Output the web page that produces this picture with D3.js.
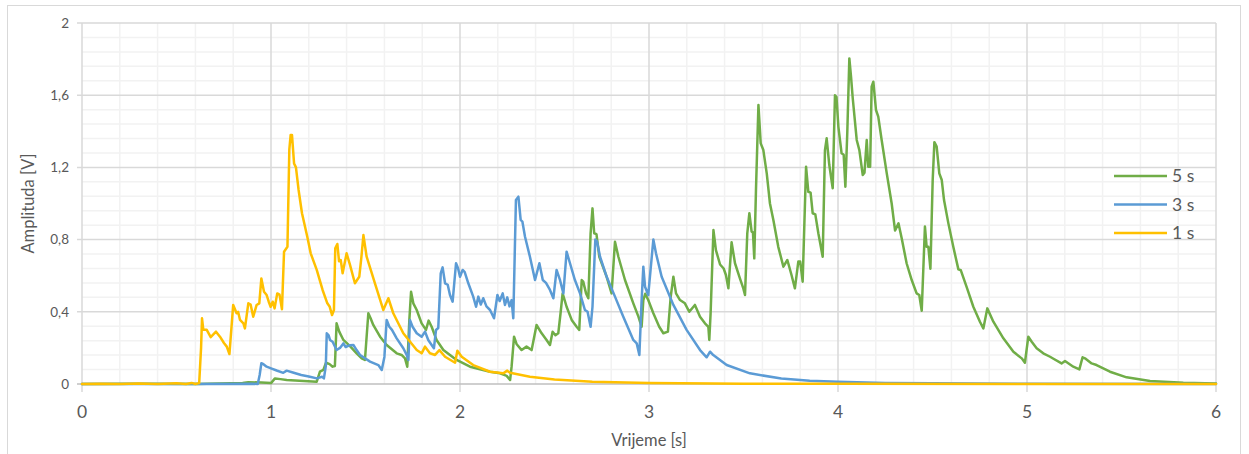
<!DOCTYPE html>
<html><head><meta charset="utf-8">
<script src="https://cdn.jsdelivr.net/npm/d3@7"></script>
<style>body{margin:0;background:#fff;}svg{display:block;font-family:Lato,"Open Sans",sans-serif;}</style>
</head><body>
<script>
const seriesNames = ["5 s", "3 s", "1 s"];
const seriesColors = ["#70AD47", "#5B9BD5", "#FFC000"];
const xTickValues = [0, 1, 2, 3, 4, 5, 6];
const xTickLabels = ["0", "1", "2", "3", "4", "5", "6"];
const yTickValues = [0, 0.4, 0.8, 1.2, 1.6, 2];
const yTickLabels = ["0", "0,4", "0,8", "1,2", "1,6", "2"];

const data5s = [[0,0],[0.3,0.002],[0.6,0],[0.85,0.005],[0.88,0.01],[0.95,0.008],[1.0,0.005],[1.021,0.031],[1.05,0.027],[1.083,0.022],[1.15,0.018],[1.242,0.013],[1.259,0.068],[1.277,0.078],[1.291,0.118],[1.31,0.11],[1.326,0.096],[1.338,0.1],[1.347,0.336],[1.361,0.29],[1.383,0.244],[1.418,0.21],[1.453,0.17],[1.48,0.142],[1.497,0.133],[1.515,0.392],[1.527,0.364],[1.541,0.327],[1.577,0.262],[1.612,0.216],[1.665,0.17],[1.691,0.161],[1.709,0.142],[1.721,0.096],[1.732,0.355],[1.741,0.511],[1.753,0.447],[1.771,0.41],[1.797,0.336],[1.82,0.30],[1.834,0.351],[1.85,0.317],[1.876,0.244],[1.912,0.188],[1.982,0.133],[2.053,0.096],[2.159,0.068],[2.212,0.059],[2.247,0.045],[2.265,0.022],[2.273,0.096],[2.286,0.262],[2.30,0.22],[2.326,0.188],[2.352,0.207],[2.379,0.188],[2.405,0.327],[2.432,0.281],[2.458,0.244],[2.476,0.216],[2.49,0.29],[2.505,0.27],[2.52,0.281],[2.532,0.392],[2.543,0.502],[2.564,0.428],[2.591,0.355],[2.617,0.317],[2.631,0.30],[2.644,0.576],[2.652,0.567],[2.667,0.502],[2.679,0.475],[2.691,0.835],[2.701,0.973],[2.71,0.835],[2.722,0.83],[2.737,0.705],[2.776,0.594],[2.802,0.502],[2.82,0.788],[2.838,0.705],[2.873,0.576],[2.917,0.447],[2.944,0.373],[2.961,0.317],[2.97,0.465],[2.98,0.50],[2.996,0.465],[3.023,0.392],[3.054,0.317],[3.076,0.281],[3.1,0.29],[3.115,0.484],[3.129,0.594],[3.143,0.502],[3.164,0.465],[3.19,0.447],[3.213,0.40],[3.243,0.438],[3.27,0.373],[3.296,0.336],[3.314,0.317],[3.319,0.244],[3.326,0.392],[3.341,0.853],[3.354,0.742],[3.376,0.662],[3.395,0.64],[3.407,0.604],[3.42,0.53],[3.437,0.785],[3.455,0.669],[3.481,0.585],[3.499,0.53],[3.508,0.493],[3.52,0.835],[3.531,0.946],[3.543,0.844],[3.55,0.84],[3.557,0.696],[3.566,1.075],[3.579,1.546],[3.591,1.333],[3.605,1.296],[3.623,1.167],[3.64,1.0],[3.658,0.909],[3.684,0.76],[3.711,0.65],[3.732,0.687],[3.754,0.604],[3.772,0.53],[3.79,0.678],[3.80,0.678],[3.813,0.567],[3.831,1.204],[3.843,1.065],[3.855,1.06],[3.866,0.946],[3.88,0.94],[3.896,0.835],[3.919,0.705],[3.931,1.296],[3.94,1.361],[3.954,1.213],[3.972,1.084],[3.984,1.60],[3.992,1.59],[4.002,1.425],[4.019,1.278],[4.03,1.27],[4.039,1.093],[4.049,1.389],[4.06,1.804],[4.069,1.702],[4.078,1.583],[4.099,1.352],[4.113,1.296],[4.131,1.158],[4.14,1.17],[4.152,1.352],[4.16,1.204],[4.17,1.204],[4.178,1.647],[4.187,1.675],[4.201,1.518],[4.213,1.481],[4.231,1.352],[4.258,1.167],[4.284,1.0],[4.302,0.85],[4.32,0.89],[4.337,0.808],[4.363,0.669],[4.39,0.576],[4.416,0.502],[4.43,0.493],[4.443,0.406],[4.46,0.872],[4.469,0.76],[4.478,0.76],[4.489,0.638],[4.501,1.13],[4.51,1.34],[4.522,1.315],[4.536,1.167],[4.549,1.13],[4.561,1.019],[4.584,0.89],[4.61,0.76],[4.637,0.635],[4.65,0.63],[4.68,0.539],[4.716,0.428],[4.751,0.345],[4.769,0.308],[4.79,0.419],[4.822,0.345],[4.875,0.253],[4.928,0.179],[4.972,0.142],[4.989,0.118],[5.007,0.262],[5.025,0.234],[5.051,0.198],[5.086,0.17],[5.122,0.151],[5.14,0.14],[5.183,0.114],[5.201,0.127],[5.245,0.096],[5.277,0.081],[5.294,0.148],[5.31,0.14],[5.342,0.114],[5.368,0.105],[5.439,0.068],[5.527,0.037],[5.651,0.017],[5.827,0.007],[6.0,0.003]];

const data3s = [[0,0],[0.3,0],[0.6,0],[0.9,0.002],[0.93,0],[0.94,0.05],[0.949,0.115],[0.96,0.11],[0.977,0.096],[1.0,0.087],[1.03,0.075],[1.065,0.062],[1.083,0.074],[1.12,0.062],[1.16,0.05],[1.2,0.042],[1.242,0.031],[1.27,0.04],[1.28,0.031],[1.29,0.1],[1.295,0.281],[1.305,0.27],[1.312,0.244],[1.326,0.234],[1.347,0.188],[1.365,0.2],[1.383,0.225],[1.395,0.205],[1.418,0.215],[1.436,0.216],[1.453,0.188],[1.471,0.161],[1.524,0.124],[1.568,0.105],[1.586,0.078],[1.60,0.15],[1.612,0.355],[1.626,0.317],[1.64,0.30],[1.665,0.253],[1.70,0.198],[1.718,0.161],[1.727,0.133],[1.735,0.355],[1.749,0.317],[1.771,0.281],[1.797,0.262],[1.815,0.29],[1.832,0.244],[1.85,0.216],[1.862,0.198],[1.873,0.299],[1.885,0.31],[1.898,0.613],[1.908,0.646],[1.921,0.558],[1.935,0.55],[1.947,0.493],[1.961,0.456],[1.979,0.669],[1.99,0.64],[2.0,0.594],[2.014,0.632],[2.025,0.62],[2.044,0.558],[2.07,0.484],[2.085,0.428],[2.097,0.484],[2.11,0.44],[2.123,0.475],[2.14,0.43],[2.159,0.41],[2.18,0.364],[2.198,0.493],[2.21,0.46],[2.226,0.502],[2.238,0.438],[2.25,0.48],[2.262,0.43],[2.273,0.465],[2.282,0.364],[2.296,1.02],[2.309,1.038],[2.321,0.909],[2.33,0.90],[2.344,0.816],[2.37,0.705],[2.397,0.576],[2.42,0.669],[2.438,0.576],[2.455,0.56],[2.476,0.521],[2.494,0.475],[2.511,0.632],[2.528,0.58],[2.547,0.502],[2.564,0.733],[2.582,0.669],[2.608,0.576],[2.635,0.502],[2.661,0.41],[2.675,0.40],[2.691,0.317],[2.701,0.428],[2.716,0.80],[2.725,0.79],[2.741,0.705],[2.776,0.594],[2.82,0.484],[2.864,0.373],[2.917,0.244],[2.935,0.225],[2.949,0.161],[2.961,0.465],[2.97,0.65],[2.979,0.539],[2.996,0.493],[3.023,0.80],[3.037,0.724],[3.067,0.594],[3.129,0.438],[3.199,0.30],[3.27,0.188],[3.305,0.148],[3.323,0.179],[3.34,0.16],[3.411,0.105],[3.534,0.059],[3.7,0.03],[3.85,0.018],[4.0,0.012],[4.25,0.006],[4.5,0.004],[5.0,0.001],[6.0,0]];

const data1s = [[0,0],[0.1,0.002],[0.2,0],[0.3,0.003],[0.4,0],[0.5,0.004],[0.55,0],[0.58,0.006],[0.6,0],[0.62,0.005],[0.63,0.2],[0.635,0.364],[0.642,0.30],[0.66,0.30],[0.681,0.26],[0.695,0.275],[0.709,0.29],[0.73,0.262],[0.751,0.227],[0.766,0.207],[0.78,0.166],[0.80,0.438],[0.818,0.392],[0.826,0.40],[0.836,0.355],[0.854,0.336],[0.862,0.308],[0.88,0.447],[0.892,0.44],[0.906,0.373],[0.924,0.438],[0.938,0.447],[0.949,0.585],[0.963,0.511],[0.977,0.493],[0.988,0.456],[0.998,0.428],[1.009,0.456],[1.019,0.419],[1.033,0.502],[1.045,0.495],[1.058,0.414],[1.069,0.733],[1.087,0.76],[1.097,1.30],[1.104,1.38],[1.111,1.38],[1.122,1.222],[1.132,1.20],[1.146,1.075],[1.164,0.946],[1.192,0.816],[1.21,0.724],[1.242,0.632],[1.273,0.521],[1.298,0.447],[1.31,0.43],[1.323,0.382],[1.333,0.41],[1.34,0.752],[1.351,0.776],[1.36,0.68],[1.369,0.687],[1.379,0.613],[1.40,0.724],[1.418,0.66],[1.444,0.558],[1.467,0.594],[1.478,0.70],[1.489,0.825],[1.506,0.705],[1.55,0.558],[1.594,0.41],[1.621,0.475],[1.647,0.392],[1.70,0.281],[1.771,0.188],[1.797,0.170],[1.815,0.207],[1.841,0.170],[1.868,0.161],[1.891,0.188],[1.921,0.151],[1.974,0.118],[1.986,0.184],[2.009,0.151],[2.07,0.105],[2.159,0.068],[2.229,0.059],[2.25,0.074],[2.265,0.062],[2.37,0.04],[2.5,0.025],[2.7,0.013],[3.0,0.006],[3.5,0.002],[4.0,0.001],[5.0,0],[6.0,0]];

const allSeries = [data5s, data3s, data1s];

const W = 1249, H = 454;
const margin = {left: 82, right: W - 1216, top: 23, bottom: H - 384};
const svg = d3.select("body").append("svg").attr("width", W).attr("height", H);

svg.append("rect").attr("x", 7.5).attr("y", 5.5).attr("width", 1233).attr("height", 470)
  .attr("fill", "#fff").attr("stroke", "#d9d9d9").attr("stroke-width", 1);

const x = d3.scaleLinear().domain([0, 6]).range([margin.left, W - margin.right]);
const y = d3.scaleLinear().domain([0, 2]).range([H - margin.bottom, margin.top]);

const g = svg.append("g");
const xMinor = d3.range(0, 6.001, 0.2).filter(v => Math.abs(v - Math.round(v)) > 1e-6);
const yMinor = d3.range(0, 2.001, 0.08).filter(v => Math.abs(v / 0.4 - Math.round(v / 0.4)) > 1e-6);
g.selectAll(".xm").data(xMinor).join("line")
  .attr("x1", d => x(d)).attr("x2", d => x(d)).attr("y1", y(2)).attr("y2", y(0))
  .attr("stroke", "#f2f2f2").attr("stroke-width", 1.5);
g.selectAll(".ym").data(yMinor).join("line")
  .attr("x1", x(0)).attr("x2", x(6)).attr("y1", d => y(d)).attr("y2", d => y(d))
  .attr("stroke", "#f2f2f2").attr("stroke-width", 1.5);
g.selectAll(".xM").data(xTickValues).join("line")
  .attr("x1", d => x(d)).attr("x2", d => x(d)).attr("y1", y(2)).attr("y2", y(0) + 8)
  .attr("stroke", "#d9d9d9").attr("stroke-width", 1.5);
g.selectAll(".yM").data(yTickValues).join("line")
  .attr("x1", x(0) - 5).attr("x2", x(6)).attr("y1", d => y(d)).attr("y2", d => y(d))
  .attr("stroke", d => d === 0 ? "#bfbfbf" : "#d9d9d9").attr("stroke-width", 1.5);

svg.append("g").selectAll("text").data(yTickValues).join("text")
  .attr("x", x(0) - 13).attr("y", d => y(d)).attr("dy", "0.35em")
  .attr("text-anchor", "end").attr("font-size", 13.5).attr("fill", "#595959")
  .text((d, i) => yTickLabels[i]);
svg.append("g").selectAll("text").data(xTickValues).join("text")
  .attr("x", d => x(d)).attr("y", 418)
  .attr("text-anchor", "middle").attr("font-size", 17.5).attr("fill", "#595959")
  .text((d, i) => xTickLabels[i]);

svg.append("text").attr("transform", `translate(34,${(y(0) + y(2)) / 2}) rotate(-90)`)
  .attr("text-anchor", "middle").attr("font-size", 16.5).attr("fill", "#595959")
  .text("Amplituda [V]");
svg.append("text").attr("x", (x(0) + x(6)) / 2).attr("y", 446)
  .attr("text-anchor", "middle").attr("font-size", 16.5).attr("fill", "#595959")
  .text("Vrijeme [s]");

const line = d3.line().x(d => x(d[0])).y(d => y(d[1])).curve(d3.curveLinear);
svg.append("g").selectAll("path").data(allSeries).join("path")
  .attr("d", line).attr("fill", "none")
  .attr("stroke", (d, i) => seriesColors[i]).attr("stroke-width", 2.5)
  .attr("stroke-linejoin", "round").attr("stroke-linecap", "round");

const leg = svg.append("g");
const legY = [176, 204.5, 233];
seriesNames.forEach((n, i) => {
  leg.append("line").attr("x1", 1114).attr("x2", 1167).attr("y1", legY[i]).attr("y2", legY[i])
    .attr("stroke", seriesColors[i]).attr("stroke-width", 2.5);
  leg.append("text").attr("x", 1172).attr("y", legY[i]).attr("dy", "0.35em")
    .attr("font-size", 17.5).attr("fill", "#595959").text(n);
});
</script>
</body></html>
